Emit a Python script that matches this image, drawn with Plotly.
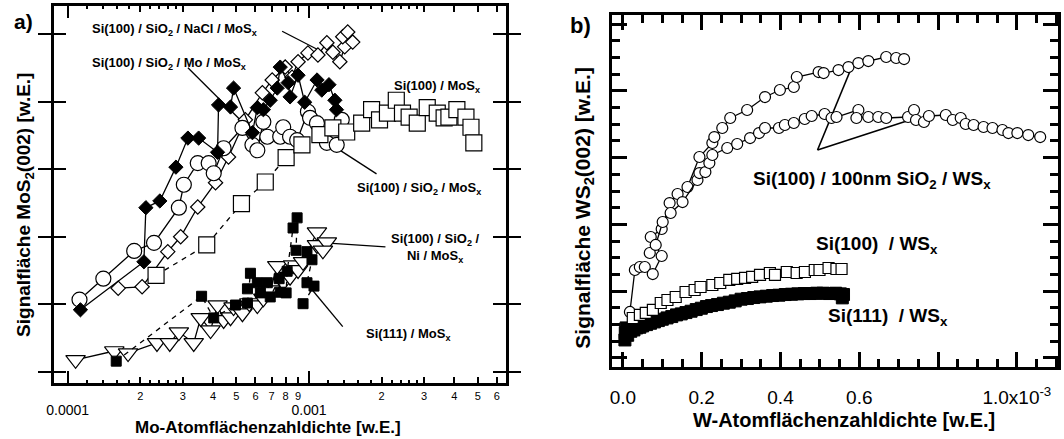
import numpy as np
import plotly.graph_objects as go

FONT = "Liberation Sans"

# ---------------- panel a) : MoS2(002) signal vs Mo areal density ----------------
# Si(100) / SiO2 / NaCl / MoSx  (open diamonds)
nacl_x = [1.62e-4, 2.035e-4, 2.60e-4, 2.94e-4, 3.46e-4, 4.10e-4, 4.64e-4, 5.45e-4, 6.41e-4,
          7.04e-4, 7.97e-4, 8.51e-4, 9.01e-4, 9.90e-4, 1.089e-3, 1.186e-3, 1.256e-3, 1.342e-3,
          1.406e-3, 1.38e-3, 1.447e-3, 1.517e-3]
nacl_y = [1.24, 1.26, 1.78, 2.00, 2.44, 2.80, 3.18, 3.73, 4.13,
          4.32, 4.51, 4.36, 4.59, 4.72, 4.69, 4.87, 4.73, 4.59,
          4.81, 4.96, 5.03, 4.88]

# Si(100) / SiO2 / MoSx  (open circles)
sio2_x = [1.12e-4, 1.406e-4, 1.887e-4, 2.28e-4, 2.89e-4, 3.03e-4, 3.46e-4, 3.84e-4, 4.03e-4,
          4.43e-4, 5.30e-4, 5.83e-4, 6.11e-4, 6.47e-4, 6.72e-4, 7.60e-4, 7.82e-4, 8.35e-4,
          8.93e-4, 9.90e-4, 1.01e-3, 1.079e-3, 1.186e-3, 1.303e-3, 1.367e-3]
sio2_y = [1.07, 1.38, 1.79, 1.91, 2.43, 2.77, 3.09, 3.09, 2.94,
          3.31, 3.61, 3.36, 3.28, 3.70, 3.48, 3.48, 3.62, 3.48,
          3.43, 3.85, 3.76, 3.68, 3.39, 3.36, 3.73]

# Si(100) / SiO2 / Mo / MoSx  (filled diamonds)
mo_x = [1.13e-4, 2.07e-4, 2.11e-4, 2.41e-4, 2.81e-4, 3.15e-4, 3.49e-4, 4.18e-4, 4.22e-4,
        4.73e-4, 4.87e-4, 5.83e-4, 6.11e-4, 6.47e-4, 6.91e-4, 7.39e-4, 7.60e-4, 8.20e-4,
        8.35e-4, 9.01e-4, 9.60e-4, 1.08e-3, 1.13e-3, 1.21e-3, 1.28e-3, 1.30e-3]
mo_y = [0.92, 1.63, 2.43, 2.53, 3.03, 3.46, 3.46, 3.25, 3.95,
        3.92, 4.20, 3.54, 3.91, 3.88, 4.02, 4.20, 4.51, 4.28,
        4.07, 4.39, 3.99, 4.32, 4.17, 4.25, 4.02, 3.88]

# Si(100) / MoSx  (open squares)
si100_x = [2.325e-4, 3.77e-4, 5.25e-4, 6.59e-4, 8.04e-4, 9.35e-4, 1.110e-3, 1.256e-3, 1.433e-3,
           1.653e-3, 1.817e-3, 1.96e-3, 2.114e-3, 2.30e-3, 2.44e-3, 2.60e-3, 2.81e-3, 3.09e-3,
           3.40e-3, 3.63e-3, 3.80e-3, 4.10e-3, 4.47e-3, 4.69e-3, 4.82e-3]
si100_y = [1.43, 1.88, 2.49, 2.81, 3.17, 3.36, 3.51, 3.61, 3.55,
           3.68, 3.88, 3.73, 3.83, 4.02, 3.83, 3.77, 3.68, 3.91,
           3.83, 3.76, 3.77, 3.88, 3.77, 3.62, 3.39]

# Si(100) / SiO2 / Ni / MoSx  (open down-triangles)
ni_x = [1.079e-4, 1.561e-4, 1.78e-4, 2.345e-4, 2.65e-4, 2.89e-4, 3.33e-4, 3.56e-4, 3.91e-4,
        4.18e-4, 4.43e-4, 4.73e-4, 4.87e-4, 5.30e-4, 5.66e-4, 6.11e-4, 6.47e-4, 6.91e-4,
        7.39e-4, 7.82e-4, 8.35e-4, 8.59e-4, 9.01e-4, 9.45e-4, 1.079e-3, 1.079e-3, 1.186e-3,
        1.142e-3]
ni_y = [0.18, 0.31, 0.28, 0.43, 0.43, 0.59, 0.43, 0.80, 0.62,
        0.99, 0.77, 0.81, 0.96, 0.87, 1.02, 0.99, 1.09, 1.21,
        1.57, 1.33, 1.41, 1.58, 1.51, 1.63, 2.07, 1.88, 1.92,
        1.80]

# Si(111) / MoSx  (filled squares)
si111_x = [1.59e-4, 3.59e-4, 4.03e-4, 4.96e-4, 5.56e-4, 5.72e-4, 5.56e-4, 6.11e-4, 6.29e-4,
           6.72e-4, 6.91e-4, 7.52e-4, 7.60e-4, 8.04e-4, 8.12e-4, 8.59e-4, 8.93e-4, 8.84e-4,
           9.81e-4, 1.029e-3, 9.81e-4, 1.049e-3, 9.45e-4]
si111_y = [0.16, 1.12, 0.80, 0.99, 1.02, 1.46, 1.23, 1.32, 1.17,
           1.32, 1.11, 1.38, 1.18, 1.17, 1.49, 2.13, 2.28, 1.80,
           1.78, 1.66, 1.32, 1.27, 1.01]

# log-axis ticks
a_tick_vals = [2e-4, 3e-4, 4e-4, 5e-4, 6e-4, 7e-4, 8e-4, 9e-4, 2e-3, 3e-3, 4e-3, 5e-3, 6e-3]
a_tick_text = ["2", "3", "4", "5", "6", "7", "8", "9", "2", "3", "4", "5", "6"]
a_minor_vals = [1.2e-4, 1.4e-4, 1.6e-4, 1.8e-4, 2.2e-4, 2.4e-4, 2.6e-4, 2.8e-4,
                1.2e-3, 1.4e-3, 1.6e-3, 1.8e-3, 2.2e-3, 2.4e-3, 2.6e-3, 2.8e-3]
a_decade_vals = [1e-4, 1e-3]
a_decade_text = ["0.0001", "0.001"]

# ---------------- panel b) : WS2(002) signal vs W areal density (x in 10^-3) ----------------
# Si(100) / 100nm SiO2 / WSx, first run (upper circle curve)
ws_up_x = [0.0177, 0.0303, 0.0429, 0.0555, 0.0757, 0.0984, 0.0706, 0.0984, 0.1185, 0.1387,
           0.1639, 0.1942, 0.2270, 0.2320, 0.2522, 0.2724, 0.3153, 0.3607, 0.3985, 0.4338,
           0.4414, 0.4968, 0.5095, 0.5473, 0.5725, 0.5977, 0.6230, 0.6683, 0.6936, 0.7137]
ws_up_y = [0.689, 1.317, 1.362, 1.362, 1.257, 1.527, 1.811, 1.931, 2.320, 2.455,
           2.560, 3.009, 3.219, 3.308, 3.443, 3.593, 3.713, 3.907, 4.012, 4.057,
           4.207, 4.281, 4.266, 4.311, 4.356, 4.416, 4.446, 4.506, 4.491, 4.476]

# Si(100) / 100nm SiO2 / WSx, second run (lower circle curve)
ws_lo_x = [0.0681, 0.0832, 0.1009, 0.1211, 0.1513, 0.1892, 0.1942, 0.2093, 0.2194, 0.2270,
           0.2648, 0.2900, 0.3228, 0.3455, 0.3607, 0.3960, 0.4111, 0.4338, 0.4615, 0.4792,
           0.5120, 0.5296, 0.5422, 0.5977, 0.5927, 0.6230, 0.6482, 0.6683, 0.7238, 0.7390,
           0.7440, 0.7642, 0.7768, 0.8197, 0.8373, 0.8575, 0.8701, 0.8903, 0.9155, 0.9382,
           0.9634, 0.9786, 1.0013, 1.0290, 1.0593]
ws_lo_y = [1.572, 1.692, 2.036, 2.171, 2.335, 2.665, 2.769, 2.784, 2.919, 3.039,
           3.144, 3.204, 3.293, 3.368, 3.443, 3.443, 3.488, 3.518, 3.578, 3.623,
           3.653, 3.593, 3.608, 3.713, 3.593, 3.608, 3.608, 3.593, 3.608, 3.713,
           3.563, 3.533, 3.623, 3.638, 3.563, 3.593, 3.503, 3.488, 3.458, 3.443,
           3.413, 3.368, 3.368, 3.338, 3.308]

# Si(100) / WSx  (open squares)
ws100_x = [0.025, 0.043, 0.058, 0.076, 0.096, 0.113, 0.134, 0.159, 0.182, 0.197,
           0.227, 0.247, 0.270, 0.290, 0.310, 0.328, 0.348, 0.373, 0.386, 0.416,
           0.441, 0.462, 0.487, 0.499, 0.522, 0.542, 0.555]
ws100_y = [0.599, 0.644, 0.674, 0.719, 0.823, 0.868, 0.913, 0.988, 1.018, 1.063,
           1.093, 1.123, 1.168, 1.183, 1.198, 1.213, 1.243, 1.272, 1.243, 1.287,
           1.272, 1.287, 1.317, 1.317, 1.347, 1.332, 1.332]

# Si(111) / WSx  (filled squares)
ws111_x = [0.005, 0.006, 0.008, 0.012, 0.020, 0.028, 0.035, 0.043, 0.050, 0.060, 0.070,
           0.080, 0.090, 0.100, 0.112, 0.124, 0.136, 0.148, 0.160, 0.173, 0.186,
           0.199, 0.212, 0.225, 0.240, 0.255, 0.270, 0.285, 0.300, 0.316, 0.332,
           0.348, 0.364, 0.380, 0.396, 0.412, 0.428, 0.444, 0.460, 0.476, 0.492,
           0.508, 0.524, 0.540, 0.552, 0.557, 0.560]
ws111_y = [0.27, 0.38, 0.45, 0.34, 0.40, 0.42, 0.45, 0.46, 0.48, 0.50, 0.52,
           0.54, 0.56, 0.58, 0.60, 0.62, 0.645, 0.66, 0.68, 0.70, 0.725,
           0.745, 0.77, 0.785, 0.80, 0.82, 0.835, 0.855, 0.88, 0.89, 0.905,
           0.915, 0.925, 0.935, 0.94, 0.95, 0.955, 0.96, 0.965, 0.965, 0.97,
           0.97, 0.965, 0.97, 0.96, 0.90, 0.95]

# leader lines from the series labels to their curves
a_leaders = [
    ((7.74e-4, 5.04), (1.142e-3, 4.73)),
    ((3.15e-4, 4.50), (5.61e-4, 3.61)),
    ((1.905e-3, 2.93), (1.279e-3, 3.33)),
    ((2.074e-3, 1.85), (1.164e-3, 1.91)),
    ((1.380e-3, 0.67), (9.9e-4, 1.29)),
]
b_leaders = [((0.494, 3.114), (0.583, 4.386)), ((0.494, 3.114), (0.744, 3.593))]

fig = go.Figure()

def open_marker(symbol, size):
    return dict(symbol=symbol, size=size, color="white", line=dict(color="black", width=1.2))

def solid_marker(symbol, size):
    return dict(symbol=symbol, size=size, color="black", line=dict(color="black", width=1))

line_solid = dict(color="black", width=1.3)
line_dash = dict(color="black", width=1.3, dash="5px,5px")

# panel a leader lines (drawn first, under the markers)
for (xa, ya), (xb, yb) in a_leaders:
    fig.add_trace(go.Scatter(x=[xa, xb], y=[ya, yb], mode="lines",
                             line=dict(color="black", width=1.3), hoverinfo="skip",
                             xaxis="x", yaxis="y"))

# panel a traces
fig.add_trace(go.Scatter(x=nacl_x, y=nacl_y, mode="lines+markers", line=line_solid,
                         marker=open_marker("diamond", 11), xaxis="x", yaxis="y"))
fig.add_trace(go.Scatter(x=sio2_x, y=sio2_y, mode="lines+markers", line=line_solid,
                         marker=open_marker("circle", 15), xaxis="x", yaxis="y"))
fig.add_trace(go.Scatter(x=mo_x, y=mo_y, mode="lines+markers", line=line_solid,
                         marker=solid_marker("diamond", 11), xaxis="x", yaxis="y"))
fig.add_trace(go.Scatter(x=si100_x, y=si100_y, mode="lines+markers", line=line_dash,
                         marker=open_marker("square", 16), xaxis="x", yaxis="y"))
fig.add_trace(go.Scatter(x=ni_x, y=ni_y, mode="lines+markers", line=line_solid,
                         marker=open_marker("triangle-down", 17), xaxis="x", yaxis="y"))
fig.add_trace(go.Scatter(x=si111_x, y=si111_y, mode="lines+markers", line=line_dash,
                         marker=solid_marker("square", 10), xaxis="x", yaxis="y"))
# carrier for the decade tick axis
fig.add_trace(go.Scatter(x=[], y=[], xaxis="x3", yaxis="y", hoverinfo="skip"))

# panel b leader lines
for (xa, ya), (xb, yb) in b_leaders:
    fig.add_trace(go.Scatter(x=[xa, xb], y=[ya, yb], mode="lines",
                             line=dict(color="black", width=1.6), hoverinfo="skip",
                             xaxis="x2", yaxis="y2"))

# panel b traces
fig.add_trace(go.Scatter(x=ws_up_x, y=ws_up_y, mode="lines+markers", line=line_solid,
                         marker=open_marker("circle", 11), xaxis="x2", yaxis="y2"))
fig.add_trace(go.Scatter(x=ws_lo_x, y=ws_lo_y, mode="lines+markers", line=line_solid,
                         marker=open_marker("circle", 11), xaxis="x2", yaxis="y2"))
fig.add_trace(go.Scatter(x=ws111_x, y=ws111_y, mode="markers",
                         marker=solid_marker("square", 12), xaxis="x2", yaxis="y2"))
fig.add_trace(go.Scatter(x=ws100_x, y=ws100_y, mode="markers",
                         marker=open_marker("square", 11), xaxis="x2", yaxis="y2"))

axis_common = dict(showline=True, linecolor="black", linewidth=2.5, mirror="allticks",
                   ticks="inside", tickcolor="black", showgrid=False, zeroline=False)

fig.update_layout(
    width=1064, height=439, margin=dict(l=0, r=0, t=0, b=0),
    paper_bgcolor="white", plot_bgcolor="white", showlegend=False,
    font=dict(family=FONT, color="black"),
    xaxis=dict(axis_common, type="log", domain=[0.0442, 0.4718], range=[-4.0576, -2.185],
               anchor="y", tickmode="array", tickvals=a_tick_vals, ticktext=a_tick_text,
               ticklen=6, tickwidth=1.6, tickfont=dict(size=11, family=FONT),
               ticklabelstandoff=1,
               minor=dict(tickmode="array", tickvals=a_minor_vals, ticklen=3.5,
                          tickwidth=1.6, ticks="inside", tickcolor="black")),
    xaxis3=dict(type="log", overlaying="x", anchor="y", range=[-4.0576, -2.185],
                tickmode="array", tickvals=a_decade_vals, ticktext=a_decade_text,
                ticks="inside", ticklen=12, tickwidth=2, tickcolor="black",
                mirror="allticks", showline=False, showgrid=False, zeroline=False,
                tickfont=dict(size=14, family=FONT), ticklabelstandoff=17, side="bottom"),
    yaxis=dict(axis_common, domain=[0.1276, 0.9863], range=[-0.163, 5.414], anchor="x",
               tickmode="array", tickvals=[0, 1, 2, 3, 4, 5], ticklen=13, tickwidth=2,
               showticklabels=False),
    xaxis2=dict(axis_common, domain=[0.5724, 0.9944], range=[-0.0277, 1.1047], anchor="y2",
                tickmode="linear", tick0=0, dtick=0.2, tickformat=".1f",
                labelalias={"0.8": "", "1.0": "1.0x10<sup>-3</sup>"},
                ticklen=15, tickwidth=2.5, tickfont=dict(size=19, family=FONT),
                ticklabelstandoff=11,
                minor=dict(dtick=0.05, tick0=0, ticklen=8, tickwidth=2.5, ticks="inside",
                           tickcolor="black")),
    yaxis2=dict(axis_common, domain=[0.164, 0.9658], range=[-0.135, 5.135], anchor="x2",
                tickmode="linear", tick0=0, dtick=1, ticklen=15, tickwidth=2.5,
                showticklabels=False,
                minor=dict(dtick=0.25, tick0=0, ticklen=8, tickwidth=2.5, ticks="inside",
                           tickcolor="black")),
)

# series labels (panel a on log x: annotation positions in log10 units)
a_labels = [
    ("Si(100) / SiO<sub>2</sub> / NaCl / MoS<sub>x</sub>", 2.78e-4, 5.06),
    ("Si(100) / SiO<sub>2</sub> / Mo / MoS<sub>x</sub>", 2.62e-4, 4.57),
    ("Si(100) / MoS<sub>x</sub>", 3.40e-3, 4.23),
    ("Si(100) / SiO<sub>2</sub> / MoS<sub>x</sub>", 2.86e-3, 2.72),
    ("Si(100) / SiO<sub>2</sub> /<br>Ni / MoS<sub>x</sub>", 3.33e-3, 1.83),
    ("Si(111) / MoS<sub>x</sub>", 2.58e-3, 0.55),
]
for text, xv, yv in a_labels:
    fig.add_annotation(text="<b>" + text + "</b>", x=np.log10(xv), y=yv, xref="x", yref="y",
                       showarrow=False, xanchor="center", yanchor="middle",
                       font=dict(size=13, family=FONT, color="black"))

b_labels = [
    ("Si(100) / 100nm SiO<sub>2</sub> / WS<sub>x</sub>", 0.633, 2.665),
    ("Si(100)\u00a0 / WS<sub>x</sub>", 0.6457, 1.692),
    ("Si(111)\u00a0 / WS<sub>x</sub>", 0.6734, 0.614),
]
for text, xv, yv in b_labels:
    fig.add_annotation(text="<b>" + text + "</b>", x=xv, y=yv, xref="x2", yref="y2",
                       showarrow=False, xanchor="center", yanchor="middle",
                       font=dict(size=19, family=FONT, color="black"))

# axis titles and panel letters (paper coordinates)
paper_texts = [
    ("Mo-Atomflächenzahldichte [w.E.]", 0.2472, 0.0262, 17, 0),
    ("Signalfläche MoS<sub>2</sub>(002) [w.E.]", 0.0169, 0.533, 19, -90),
    ("W-Atomflächenzahldichte [w.E.]", 0.7923, 0.0433, 20, 0),
    ("Signalfläche WS<sub>2</sub>(002) [w.E.]", 0.5451, 0.5273, 21, -90),
    ("a)", 0.016, 0.952, 21, 0),
    ("b)", 0.5423, 0.943, 22, 0),
]
for text, xv, yv, size, angle in paper_texts:
    fig.add_annotation(text="<b>" + text + "</b>", x=xv, y=yv, xref="paper", yref="paper",
                       showarrow=False, xanchor="center", yanchor="middle", textangle=angle,
                       font=dict(size=size, family=FONT, color="black"))

fig.write_html("out.html")
